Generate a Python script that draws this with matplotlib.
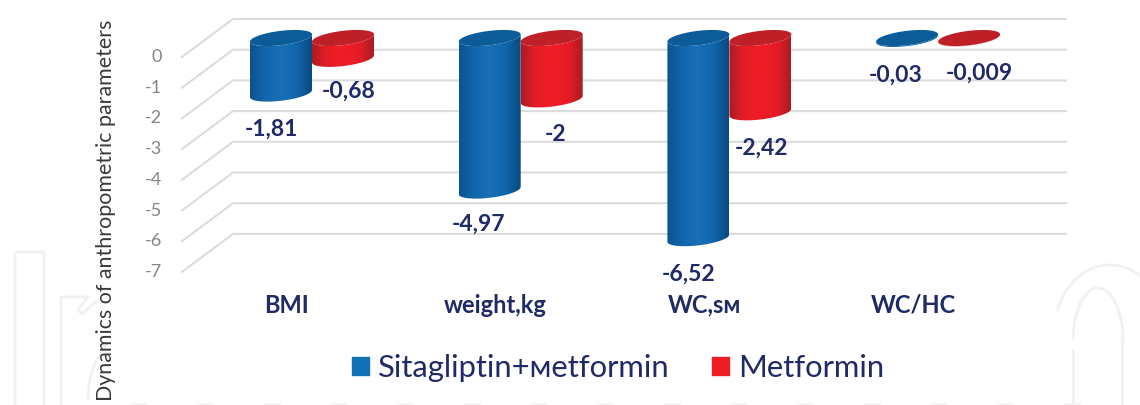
#!/usr/bin/env python3
"""Dynamics of anthropometric parameters, fake-3D cylinder bars."""

import numpy as np
import matplotlib
matplotlib.use("Agg")
import matplotlib.pyplot as plt
from matplotlib.colors import LinearSegmentedColormap
from matplotlib.patches import Patch, Polygon, FancyBboxPatch, Arc

plt.rcParams['font.family'] = ['Lato', 'Noto Sans', 'DejaVu Sans']

categories = ['BMI', 'weight,kg', 'WC,sм', 'WC/HC']
sitagliptin = [-1.81, -4.97, -6.52, -0.03]
metformin = [-0.68, -2, -2.42, -0.009]
levels = [0, -1, -2, -3, -4, -5, -6, -7]
series_names = ['Sitagliptin+мetformin', 'Metformin']

# label offsets in pixels from the bottom centre of each bar (dx, dy)
blue_offsets = [(-10, -36), (-11, -34), (-10, -36), (-11, -36)]
red_offsets = [(6, -32), (4, -35), (1, -36), (10, -35)]

NAVY = '#1f2a66'
PX_X = 208.7   # px per category
PX_Y = 30.7    # px per unit
DEPTH = 19 / PX_Y
BAR_W = 62 / PX_X
ELL_B = 7.2 / PX_Y
ELL_C = 3.6 / PX_Y

blue_map = LinearSegmentedColormap.from_list('b', ['#0c5490', '#1166ac', '#1a70b8', '#1166ac', '#0a4a80'])
red_map = LinearSegmentedColormap.from_list('r', ['#a81c22', '#e01d25', '#ee1c25', '#ee1c25', '#e01d25', '#a81c22'])

fig = plt.figure(figsize=(11.4, 4.05), dpi=100)

# faint watermark behind the chart, in pixel coordinates
bg = fig.add_axes([0, 0, 1, 1])
bg.set_xlim(0, 1140)
bg.set_ylim(405, 0)
bg.axis('off')
wm = dict(color='#f1f1f1', lw=2, solid_capstyle='round')
bg.add_patch(FancyBboxPatch((15, 252), 29, 200, boxstyle='round,pad=0,rounding_size=3',
                            fc='none', ec='#f1f1f1', lw=2))
bg.plot([61, 61, 88, 78, 82, 98], [410, 297, 297, 310, 314, 300], **wm)
bg.add_patch(Arc((128, 400), 80, 130, theta1=180, theta2=250, color='#f1f1f1', lw=2))
bg.plot([1073, 1073], [410, 350], **wm)
bg.plot([1122, 1122], [410, 340], **wm)
bg.add_patch(Arc((1098, 340), 50, 104, theta1=180, theta2=360, color='#f1f1f1', lw=2))
bg.add_patch(Arc((1110, 330), 110, 130, theta1=200, theta2=340, color='#f1f1f1', lw=2))
bg.plot([130, 1100], [404, 404], color='#f3f3f3', lw=2, dashes=(6, 18))

ax = fig.add_axes([0, 0, 1, 1], zorder=2)
ax.patch.set_alpha(0)
ax.axis('off')
xlim = (-312 / PX_X, (1140 - 312) / PX_X)
ylim = (-(405 - 38) / PX_Y, 38 / PX_Y)


def ellipse(cx, yc, t):
    return cx + BAR_W / 2 * np.cos(t), yc + ELL_B * np.sin(t) + ELL_C * np.cos(t)


def cylinder(cx, value, cmap, top_color):
    t = np.linspace(np.pi, 2 * np.pi, 60)
    bx, by = ellipse(cx, value, t)
    tx, ty = ellipse(cx, 0, t[::-1])
    body = Polygon(np.column_stack([np.r_[bx, tx], np.r_[by, ty]]), closed=True, fc='none', ec='none')
    ax.add_patch(body)
    grad = np.linspace(0, 1, 128).reshape(1, -1)
    im = ax.imshow(grad, cmap=cmap, aspect='auto', zorder=3,
                   extent=(cx - BAR_W / 2, cx + BAR_W / 2, value - 1, 1))
    im.set_clip_path(body)
    t = np.linspace(0, 2 * np.pi, 120)
    ex, ey = ellipse(cx, 0, t)
    ax.fill(ex, ey, color=top_color, lw=0, zorder=4)


# walls: back gridlines plus the slanted floor lines
for v in levels:
    ax.plot([-0.623, -0.3785, 3.613], [v - DEPTH, v + DEPTH, v + DEPTH],
            color='#dcdcdc', lw=1.5, zorder=1, solid_joinstyle='miter')
    ax.text(-0.72, v - DEPTH, str(v), ha='right', va='center', fontsize=13, color='#858585')

for i, cat in enumerate(categories):
    ax.text(i - 0.12, -8.7, cat, ha='center', va='center', fontsize=17, fontweight='bold', color=NAVY)

for i in range(len(categories)):
    xb = i - BAR_W / 2
    xr = i + BAR_W / 2
    cylinder(xb, sitagliptin[i], blue_map, '#0b5c98')
    cylinder(xr, metformin[i], red_map, '#bf1f26')
    for x, v, off in [(xb, sitagliptin[i], blue_offsets[i]), (xr, metformin[i], red_offsets[i])]:
        ax.annotate(f'{v:g}'.replace('.', ','), (x, v), xytext=off, textcoords='offset pixels',
                    ha='center', va='center', fontsize=16.5, fontweight='bold', color=NAVY, zorder=5)

ax.set_xlim(*xlim)
ax.set_ylim(*ylim)

fig.text(106 / 1140, 1 - 210 / 405, 'Dynamics of anthropometric parameters', rotation=90,
         ha='center', va='center', fontsize=15.4, color='#3a3a3a', zorder=3)

handles = [Patch(color='#1170b8'), Patch(color='#ee1c25')]
leg = ax.legend(handles, series_names, ncol=2, loc='center', frameon=False, fontsize=22.3,
                bbox_to_anchor=(618 / 1140, 1 - 368 / 405), handlelength=0.55, handleheight=0.55,
                handletextpad=0.27, columnspacing=1.4, labelcolor=NAVY)

fig.savefig('out.png', dpi=100)
